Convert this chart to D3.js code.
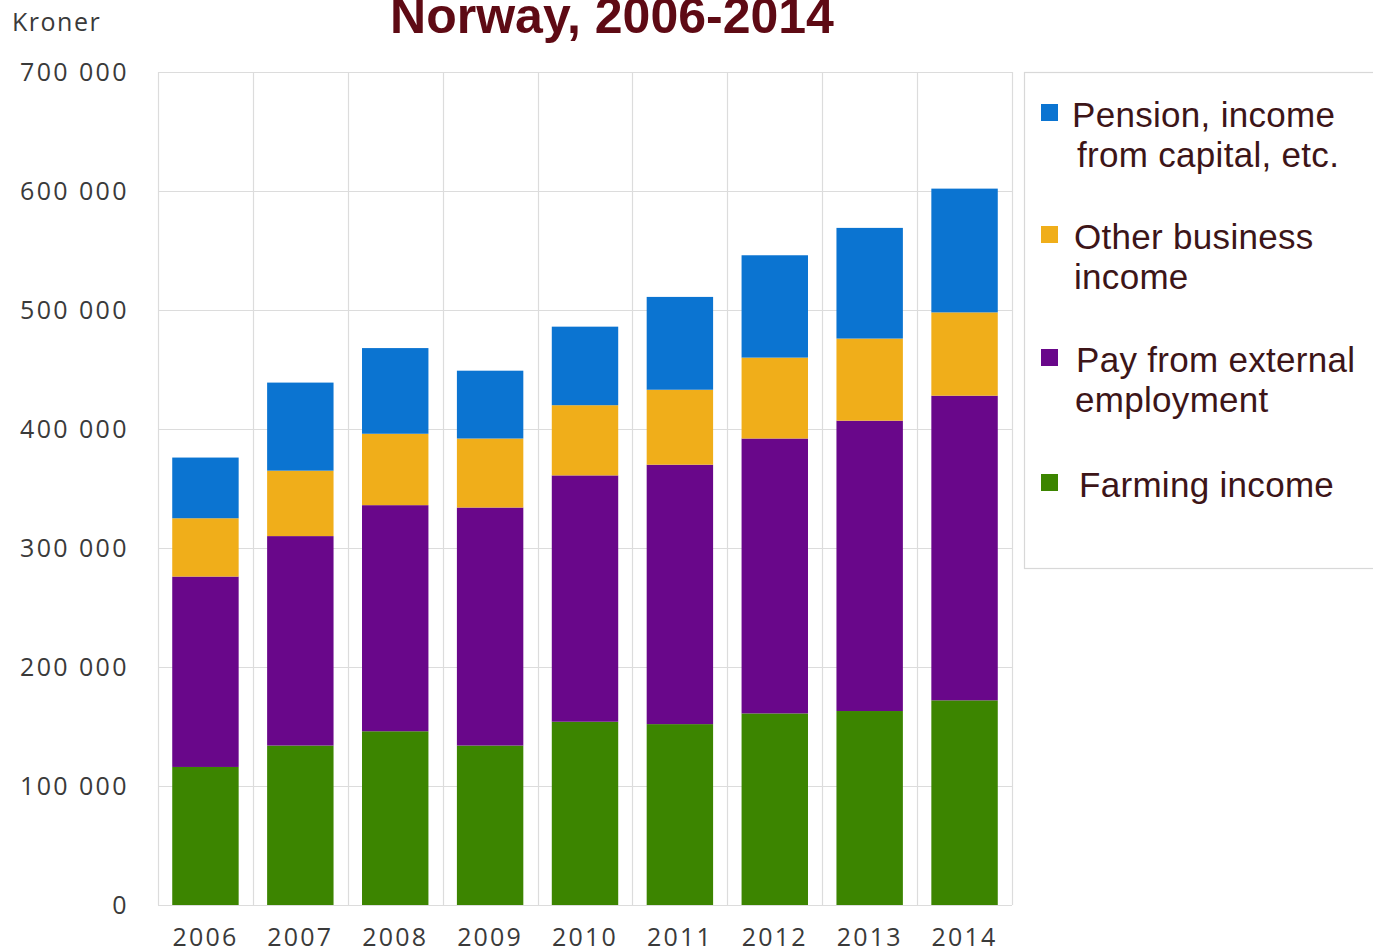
<!DOCTYPE html>
<html>
<head>
<meta charset="utf-8">
<script src="https://cdn.jsdelivr.net/npm/d3@7"></script>
<style>
  html, body { margin: 0; padding: 0; background: #fff; }
  svg { display: block; }
</style>
</head>
<body>
<svg id="chart" width="1373" height="952"></svg>
<script>
// Average household income on farms, by source (kroner)
const years = ["2006", "2007", "2008", "2009", "2010", "2011", "2012", "2013", "2014"];
const farming  = [116000, 134000, 146000, 134000, 154000, 152000, 161000, 163000, 172000];
const payExt   = [160000, 176000, 190000, 200000, 207000, 218000, 231000, 244000, 256000];
const otherBiz = [ 49000,  55000,  60000,  58000,  59000,  63000,  68000,  69000,  70000];
const pension  = [ 51000,  74000,  72000,  57000,  66000,  78000,  86000,  93000, 104000];
const yTicks = [0, 100000, 200000, 300000, 400000, 500000, 600000, 700000];

const seriesKeys = ["farming", "payExt", "otherBiz", "pension"];
const colors = { farming: "#3c8500", payExt: "#69078a", otherBiz: "#f0ae1a", pension: "#0b74d1" };

const table = years.map((y, i) => ({
  year: y, farming: farming[i], payExt: payExt[i], otherBiz: otherBiz[i], pension: pension[i]
}));

const svg = d3.select("#chart");
const m = { left: 158, right: 1012, top: 72, bottom: 905 };

const x = d3.scaleBand().domain(years).range([m.left, m.right]).paddingInner(0.3).paddingOuter(0.15);
const xGrid = d3.scaleBand().domain(years).range([m.left, m.right]);
const y = d3.scaleLinear().domain([0, 700000]).range([m.bottom, m.top]);

// Grid
const grid = svg.append("g").attr("stroke", "#dcdcdc").attr("stroke-width", 1.2);
grid.selectAll("line.h").data(yTicks).join("line")
  .attr("x1", m.left).attr("x2", m.right)
  .attr("y1", d => Math.round(y(d)) + 0.5).attr("y2", d => Math.round(y(d)) + 0.5);
const vEdges = years.map(d => xGrid(d)).concat([m.right]);
grid.selectAll("line.v").data(vEdges).join("line")
  .attr("x1", d => Math.round(d) + 0.5).attr("x2", d => Math.round(d) + 0.5)
  .attr("y1", m.top).attr("y2", m.bottom);

// Stacked bars
const stack = d3.stack().keys(seriesKeys)(table);
svg.append("g").selectAll("g").data(stack).join("g")
  .attr("fill", d => colors[d.key])
  .selectAll("rect").data(d => d).join("rect")
  .attr("x", d => x(d.data.year))
  .attr("width", x.bandwidth())
  .attr("y", d => y(d[1]))
  .attr("height", d => y(d[0]) - y(d[1]));

// Y axis labels
const yAxis = d3.axisLeft(y).tickValues(yTicks).tickSize(0).tickPadding(0)
  .tickFormat(d => d3.format(",")(d).replace(/,/g, " "));
svg.append("g").attr("transform", `translate(129,0)`).call(yAxis)
  .call(g => g.select(".domain").remove())
  .call(g => g.selectAll("text")
    .attr("font-family", "Open Sans, sans-serif").attr("font-size", 25)
    .attr("letter-spacing", 2.4)
    .attr("fill", "#3a3a3a").attr("dy", "0.35em"));

// X axis labels
const xAxis = d3.axisBottom(x).tickSize(0).tickPadding(0);
svg.append("g").attr("transform", `translate(0,${m.bottom})`).call(xAxis)
  .call(g => g.select(".domain").remove())
  .call(g => g.selectAll("text")
    .attr("font-family", "Open Sans, sans-serif").attr("font-size", 25)
    .attr("letter-spacing", 2.2)
    .attr("fill", "#3a3a3a").attr("y", 41).attr("dy", 0));

// Unit label
svg.append("text").attr("x", 12).attr("y", 31)
  .attr("font-family", "Open Sans, sans-serif").attr("font-size", 25)
  .attr("letter-spacing", 1.5)
  .attr("fill", "#3a3a3a").text("Kroner");

// Title
svg.append("text").attr("x", 612).attr("y", 33).attr("text-anchor", "middle")
  .attr("font-family", "Liberation Sans, Arial, sans-serif").attr("font-weight", "bold")
  .attr("font-size", 50).attr("fill", "#5e0a14").text("Norway, 2006-2014");

// Legend
const lg = svg.append("g");
lg.append("rect").attr("x", 1024.5).attr("y", 72.5).attr("width", 360).attr("height", 496)
  .attr("fill", "#fff").attr("stroke", "#d8d8d8").attr("stroke-width", 1.2);

const legendItems = [
  { key: "pension",  lines: ["Pension, income", "from capital, etc."], y: 127, indent: [0, 5] },
  { key: "otherBiz", lines: ["Other business", "income"], y: 249, indent: [2, 2] },
  { key: "payExt",   lines: ["Pay from external", "employment"], y: 372, indent: [4, 3] },
  { key: "farming",  lines: ["Farming income"], y: 497, indent: [7] }
];
legendItems.forEach(it => {
  lg.append("rect").attr("x", 1041).attr("y", it.y - 23).attr("width", 17).attr("height", 17)
    .attr("fill", colors[it.key]);
  it.lines.forEach((t, j) => {
    lg.append("text").attr("x", 1072 + it.indent[j]).attr("y", it.y + j * 40)
      .attr("font-family", "Liberation Sans, Arial, sans-serif").attr("font-size", 35)
      .attr("letter-spacing", 0.3)
      .attr("fill", "#3d1518").text(t);
  });
});
</script>
</body>
</html>
